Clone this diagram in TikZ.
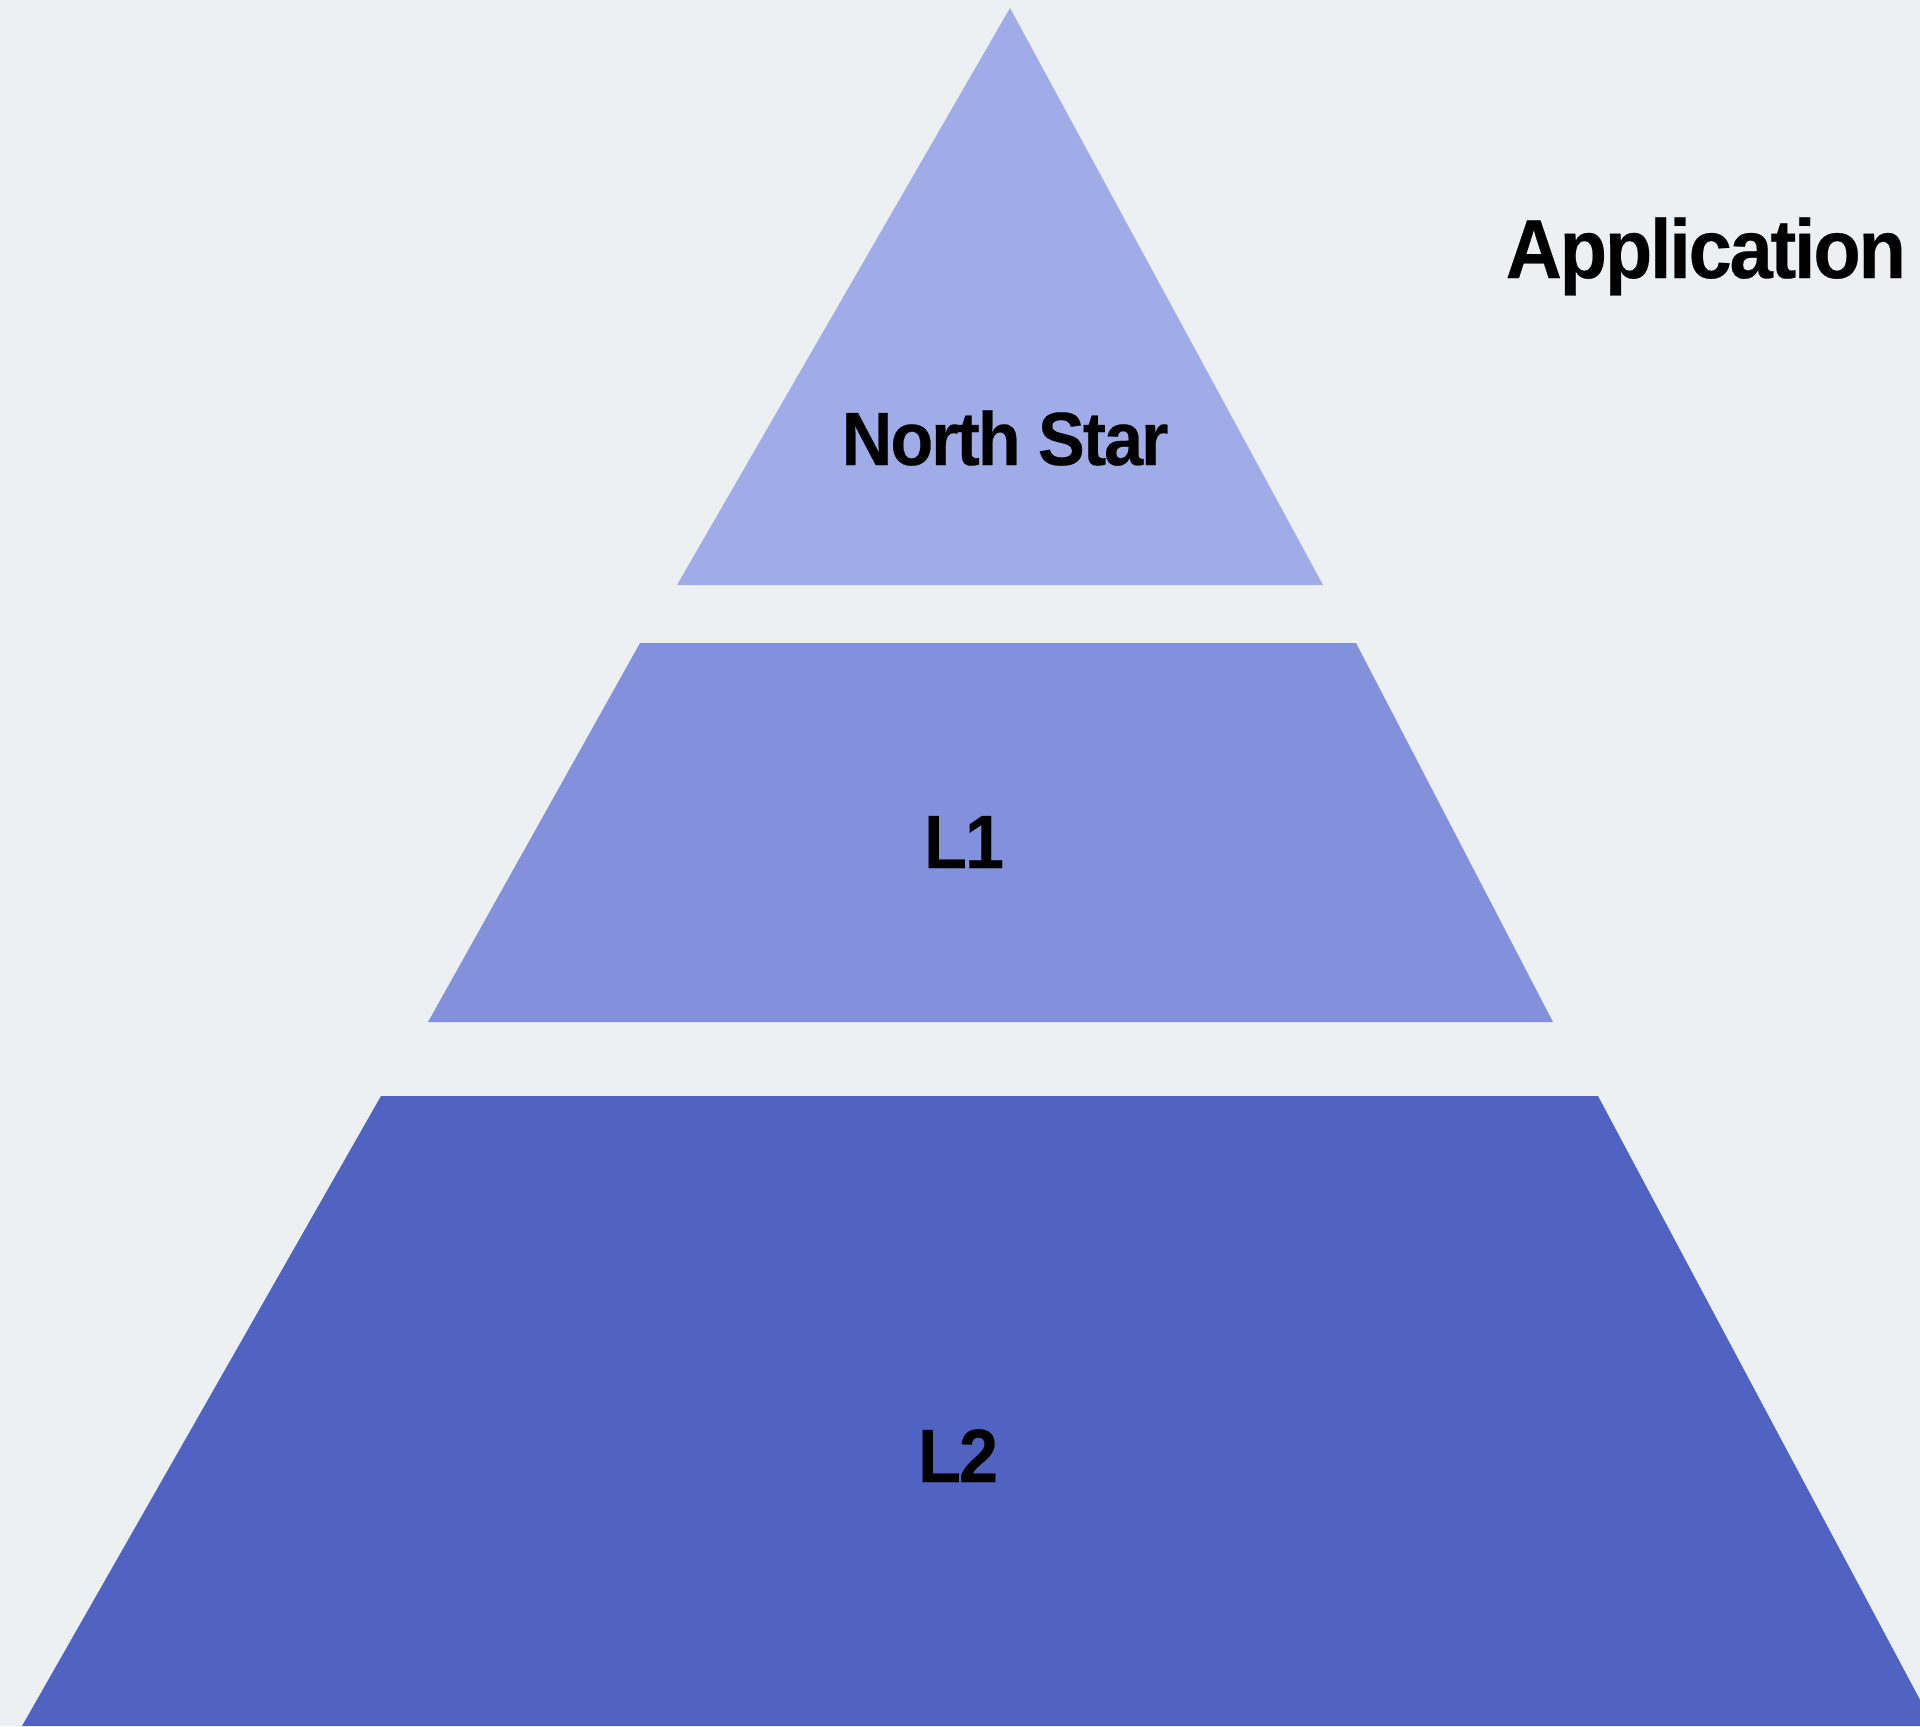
\documentclass[tikz,border=0pt]{standalone}
\usepackage{fontspec}
\usepackage{graphicx}
\usepackage{xcolor}
\setmainfont{Liberation Sans}
\newfontfamily\tightfont{Liberation Sans}[LetterSpace=-3, FakeBold=0.3]

\definecolor{bgcol}{RGB}{237,240,243}
\definecolor{topcol}{RGB}{160,172,232}
\definecolor{midcol}{RGB}{131,145,220}
\definecolor{botcol}{RGB}{81,99,194}
\newcommand{\squeeze}[1]{\scalebox{0.93}[1]{#1}}

\begin{document}
\begin{tikzpicture}[x=0.1mm,y=-0.1mm,
    layertext/.style={font=\tightfont\bfseries\fontsize{21.5pt}{24pt}\selectfont, inner sep=0pt, anchor=base},
    titletext/.style={font=\tightfont\bfseries\fontsize{23.8pt}{26pt}\selectfont, inner sep=0pt, anchor=base west}]
    % Draw the page and background
    \useasboundingbox (0,0) rectangle (1920,1726);
    \clip (0,0) rectangle (1920,1726);
    \fill[bgcol] (0,0) rectangle (1920,1726);

    % Draw the three layers
    \fill[topcol] (1010,8) -- (1323,585) -- (677,585) -- cycle;
    \fill[midcol] (640,643) -- (1356,643) -- (1553,1022) -- (428,1022) -- cycle;
    \fill[botcol] (381,1096) -- (1598,1096) -- (1934,1726) -- (22,1726) -- cycle;

    \node[layertext] (northstar) at (1005,465) {\squeeze{North Star}};
    \node[layertext] (lone) at (964,868) {\squeeze{L1}};
    \node[layertext] (ltwo) at (958,1482) {\squeeze{L2}};
    \node[titletext] (apptitle) at (1505,278) {\squeeze{Application}};
\end{tikzpicture}
\end{document}
